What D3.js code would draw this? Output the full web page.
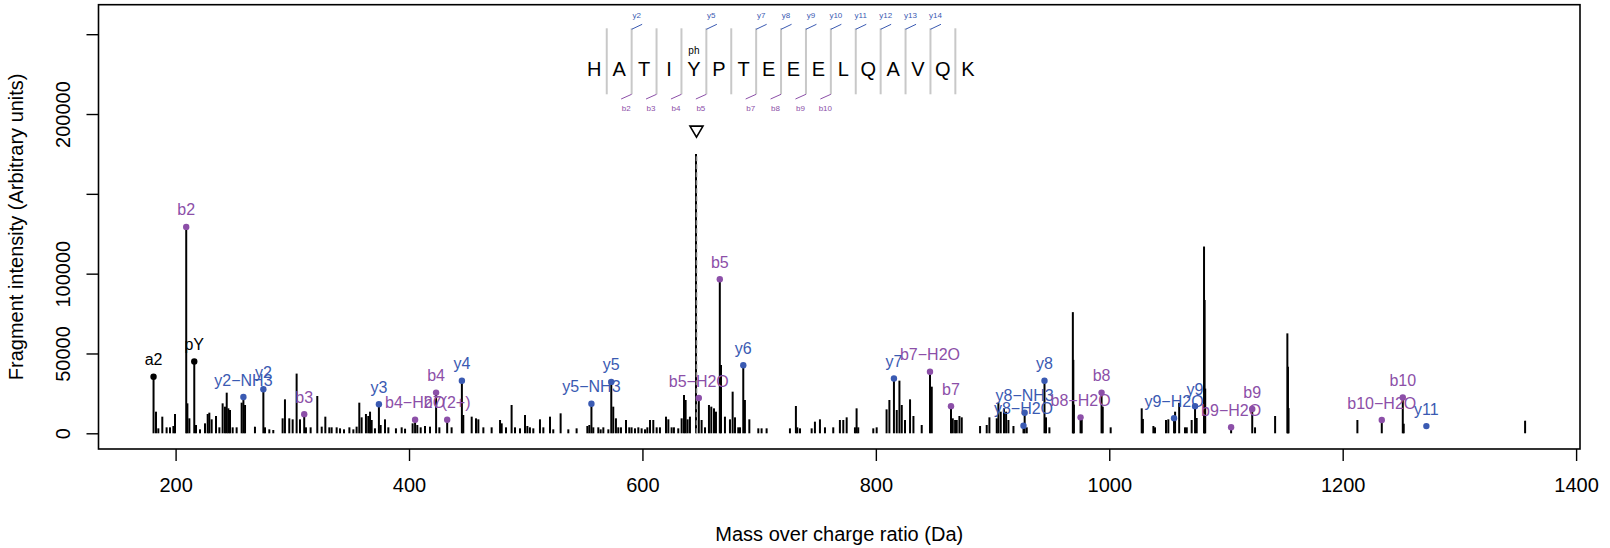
<!DOCTYPE html>
<html><head><meta charset="utf-8">
<script src="https://cdn.jsdelivr.net/npm/d3@7"></script>
<style>
body{margin:0;background:#fff}
svg{display:block}
text{font-family:"Liberation Sans",Arial,Helvetica,sans-serif}
</style>
</head><body>
<svg id="chart" width="1610" height="548"></svg>
<script>
// ---------------- data ----------------
const peakMz = [181.1,183.2,185.2,188.6,192.3,195.2,198.1,199.5,209.1,210.1,211.8,216.0,217.5,220.9,225.2,227.5,228.9,230.9,234.6,237.5,240.3,242.3,243.8,245.2,246.6,248.9,252.3,256.6,258.1,259.5,268.0,275.2,276.6,280.3,283.7,291.7,293.7,297.4,300.3,303.7,306.6,310.2,311.7,315.7,321.4,325.2,328.3,331.7,333.7,338.0,340.9,344.3,348.9,352.3,355.1,357.4,359.4,363.1,365.1,366.6,368.0,370.8,374.2,375.7,379.4,382.3,388.8,393.7,396.6,403.1,405.2,407.1,410.0,413.7,418.0,423.2,426.0,432.7,436.5,445.3,446.5,453.7,457.4,459.4,463.7,470.8,478.0,479.4,483.1,487.9,490.8,
495.1,499.4,501.4,503.6,506.5,512.2,515.1,520.8,523.6,529.9,536.5,543.6,552.8,554.5,556.3,557.9,562.2,564.2,566.5,570.8,573.3,575.0,577.3,579.3,581.6,585.9,588.7,590.7,593.6,596.5,599.3,602.2,604.2,606.5,609.3,612.2,615.0,620.2,622.2,625.0,627.0,630.7,633.6,635.6,637.0,638.7,640.7,645.9,648.3,650.7,653.6,657.0,659.0,661.3,663.0,666.3,667.3,670.7,675.0,677.3,679.3,682.1,683.6,686.4,687.8,691.6,699.3,702.1,706.4,726.4,731.5,732.7,735.0,745.0,747.8,752.1,756.4,763.5,769.2,772.1,775.0,782.1,783.5,784.9,797.8,800.7,809.2,
811.6,815.5,817.9,820.2,822.2,825.0,829.3,832.2,839.3,846.4,847.9,864.4,865.9,867.9,869.3,871.6,873.6,889.3,895.0,897.3,903.6,905.0,907.0,909.8,911.6,913.6,917.9,926.5,927.5,929.3,944.5,945.8,948.7,968.8,969.2,969.7,975.4,976.4,993.4,994.4,1001.2,1027.8,1028.8,1037.8,1039.2,1048.6,1050.6,1055.5,1056.4,1059.9,1064.9,1066.4,1070.6,1073.5,1074.9,1081.2,1081.7,1082.2,1104.4,1122.5,1124.9,1142.1,1152.6,1153.1,1153.6,1212.6,1233.5,1251.5,1252.3,1356.3];
const peakIntensity = [35400,13550,3110,10420,3740,3740,4570,12090,129300,18770,9380,45000,5200,2480,6240,12090,12930,8750,10840,3740,18770,16680,25450,15640,14600,3740,3740,19190,22700,17730,4160,27600,3740,2480,2070,9380,21280,9380,8750,37400,8750,12000,3740,3740,23370,4160,10420,3740,3740,3740,3110,2480,3740,2480,4160,19190,10000,12090,10840,13550,8330,3110,18200,5200,8750,3740,3110,3740,2900,6240,8500,5200,3740,4570,4160,25500,3740,8500,3740,32900,11460,10420,9380,8750,3740,3740,8330,6240,3740,17730,3740,
3110,11460,4570,3740,3110,8750,3740,10420,2480,12510,2480,3110,4570,5200,18500,3740,3740,2480,3740,2480,32200,16680,9380,3740,3740,8330,3740,3740,3110,3740,3110,2480,3740,8330,8330,3740,3740,10420,8750,3740,3740,3110,9380,24000,20860,8750,10420,175000,22100,8330,3740,17730,16680,15640,13550,96500,42800,10420,8750,26080,10000,3740,3740,42600,20860,8750,3110,3110,3110,3110,17100,3740,3110,3110,7290,8750,3740,3740,8330,8330,10000,3740,15640,3740,3110,3740,15000,
20860,34300,14600,32970,17730,8330,21280,10840,5200,38600,29210,17000,9380,8330,8330,10840,10000,4570,5200,10000,9380,19190,13550,15640,13550,8330,4570,4700,12900,3740,32900,10000,3740,75900,46000,18000,10000,8750,25500,16680,3740,15640,9000,4570,3740,8330,8750,9500,13550,19100,3740,3740,8330,17000,9600,117000,83500,28000,3800,15200,3740,10840,62600,41700,15800,8330,8300,22500,6000,7910];

const ionLabels = ["a2","pY","b2","y2\u2212NH3","y2","b3","y3","b4\u2212H2O","b4","b7(2+)","y4","y5\u2212NH3","y5","b5\u2212H2O","b5","y6","y7","b7\u2212H2O","b7","y8\u2212NH3","y8\u2212H2O","y8","b8\u2212H2O","b8","y9\u2212H2O","y9","b9\u2212H2O","b9","b10\u2212H2O","b10","y11"];
const ionMz = [181.1,216.0,209.1,258.1,275.2,310.2,374.2,405.2,423.2,432.7,445.3,556.3,573.3,648.3,666.3,686.4,815.5,846.4,864.4,927.5,926.5,944.5,975.4,993.4,1055.5,1073.5,1104.4,1122.5,1233.5,1251.5,1271.7];
const ionIntensity = [35400,45000,129300,22700,27600,12000,18200,8500,25500,8500,32900,18500,32200,22100,96500,42600,34300,38600,17000,12900,4700,32900,10000,25500,9500,17000,3800,15200,8300,22500,4500];
const ionType = ["o","o","b","y","y","b","y","b","b","b","y","y","y","b","b","y","y","b","b","y","y","y","b","b","y","y","b","b","b","b","y"];

const precursorMz = 646.31;
const precursorMarker = 189000;

const sequence = ["H","A","T","I","Y","P","T","E","E","E","L","Q","A","V","Q","K"];
const modifiedPosition = 4;
const modificationLabel = "ph";
const yMarks = [2,5,7,8,9,10,11,12,13,14];
const bMarks = [2,3,4,5,7,8,9,10];

const xTicks = [200,400,600,800,1000,1200,1400];
const yTicks = [0,50000,100000,150000,200000,250000];
const yTickLabels = ["0","50000","100000","","200000",""];

const xTitle = "Mass over charge ratio (Da)";
const yTitle = "Fragment intensity (Arbitrary units)";

// ---------------- drawing ----------------
const colors = {b:"#8c4fa8", y:"#3a5ab2", o:"#000000"};
const svg = d3.select("#chart");
const box = {left:98.5, right:1580, top:4.7, bottom:449};
const x = d3.scaleLinear().domain([200,1400]).range([175.6,1576.1]);
const y = d3.scaleLinear().domain([0,250000]).range([433.3,34.2]);

// peaks
svg.append("g").selectAll("line").data(peakMz).join("line")
  .attr("x1",(d)=>x(d)).attr("x2",(d)=>x(d))
  .attr("y1",y(0)).attr("y2",(d,i)=>y(peakIntensity[i]))
  .attr("stroke","#000").attr("stroke-width",2);

// precursor dashed line
svg.append("line")
  .attr("x1",x(precursorMz)).attr("x2",x(precursorMz))
  .attr("y1",y(0)).attr("y2",y(175000))
  .attr("stroke","#808080").attr("stroke-width",1.6).attr("stroke-dasharray","5,3");

// precursor triangle
const tx = x(precursorMz), ty = y(precursorMarker);
svg.append("path")
  .attr("d",`M${tx-6.5},${ty-5.5}L${tx+6.5},${ty-5.5}L${tx},${ty+5.5}Z`)
  .attr("fill","none").attr("stroke","#000").attr("stroke-width",1.6);

// ion dots
svg.append("g").selectAll("circle").data(ionMz).join("circle")
  .attr("cx",(d)=>x(d)).attr("cy",(d,i)=>y(ionIntensity[i]))
  .attr("r",3.2).attr("fill",(d,i)=>colors[ionType[i]]);

// ion labels
svg.append("g").selectAll("text").data(ionMz).join("text")
  .attr("x",(d)=>x(d)).attr("y",(d,i)=>y(ionIntensity[i])-11.5)
  .attr("text-anchor","middle").attr("font-size",16)
  .attr("fill",(d,i)=>colors[ionType[i]])
  .text((d,i)=>ionLabels[i]);

// sequence annotation
const sx = d3.scalePoint().domain(d3.range(sequence.length)).range([594.3,967.8]);
const sepX = (j)=>(sx(j-1)+sx(j))/2;
const seqG = svg.append("g");
seqG.selectAll("line.sep").data(d3.range(1,sequence.length)).join("line")
  .attr("class","sep")
  .attr("x1",sepX).attr("x2",sepX).attr("y1",28.3).attr("y2",94.3)
  .attr("stroke","#c8c8c8").attr("stroke-width",2);
seqG.selectAll("text.aa").data(sequence).join("text")
  .attr("class","aa")
  .attr("x",(d,i)=>sx(i)).attr("y",75.5)
  .attr("text-anchor","middle").attr("font-size",20).text((d)=>d);
seqG.append("text").attr("x",sx(modifiedPosition)).attr("y",53.5)
  .attr("text-anchor","middle").attr("font-size",10).text(modificationLabel);
seqG.selectAll("line.ym").data(yMarks).join("line")
  .attr("class","ym")
  .attr("x1",sepX).attr("y1",29.3).attr("x2",(d)=>sepX(d)+10.5).attr("y2",24.3)
  .attr("stroke",colors.y).attr("stroke-width",1);
seqG.selectAll("text.yl").data(yMarks).join("text")
  .attr("class","yl")
  .attr("x",(d)=>sepX(d)+5).attr("y",17.8)
  .attr("text-anchor","middle").attr("font-size",8).attr("fill",colors.y)
  .text((d)=>"y"+d);
seqG.selectAll("line.bm").data(bMarks).join("line")
  .attr("class","bm")
  .attr("x1",sepX).attr("y1",94.3).attr("x2",(d)=>sepX(d)-10.5).attr("y2",99)
  .attr("stroke",colors.b).attr("stroke-width",1);
seqG.selectAll("text.bl").data(bMarks).join("text")
  .attr("class","bl")
  .attr("x",(d)=>sepX(d)-5.5).attr("y",111)
  .attr("text-anchor","middle").attr("font-size",8).attr("fill",colors.b)
  .text((d)=>"b"+d);

// box
svg.append("rect").attr("x",box.left).attr("y",box.top)
  .attr("width",box.right-box.left).attr("height",box.bottom-box.top)
  .attr("fill","none").attr("stroke","#000").attr("stroke-width",1.6);

// x axis
const gx = svg.append("g").attr("transform",`translate(0,${box.bottom})`)
  .call(d3.axisBottom(x).tickValues(xTicks).tickSize(12).tickPadding(17).tickFormat(d3.format("d")));
gx.select(".domain").remove();
gx.selectAll("line").attr("stroke-width",1.4);
gx.selectAll("text").attr("font-size",20).attr("font-family","Liberation Sans, Arial, sans-serif");

// y axis
const gy = svg.append("g").attr("transform",`translate(${box.left},0)`)
  .call(d3.axisLeft(y).tickValues(yTicks).tickSize(12).tickFormat((d,i)=>yTickLabels[i]));
gy.select(".domain").remove();
gy.selectAll("line").attr("stroke-width",1.4);
gy.selectAll("text").attr("font-size",20).attr("font-family","Liberation Sans, Arial, sans-serif")
  .attr("x",null).attr("dy",null).attr("text-anchor","middle")
  .attr("transform","translate(-29,0) rotate(-90)");

// titles
svg.append("text").attr("x",(box.left+box.right)/2).attr("y",541)
  .attr("text-anchor","middle").attr("font-size",20).text(xTitle);
svg.append("text").attr("transform",`translate(22.6,${(box.top+box.bottom)/2}) rotate(-90)`)
  .attr("text-anchor","middle").attr("font-size",20).text(yTitle);
</script>
</body></html>
